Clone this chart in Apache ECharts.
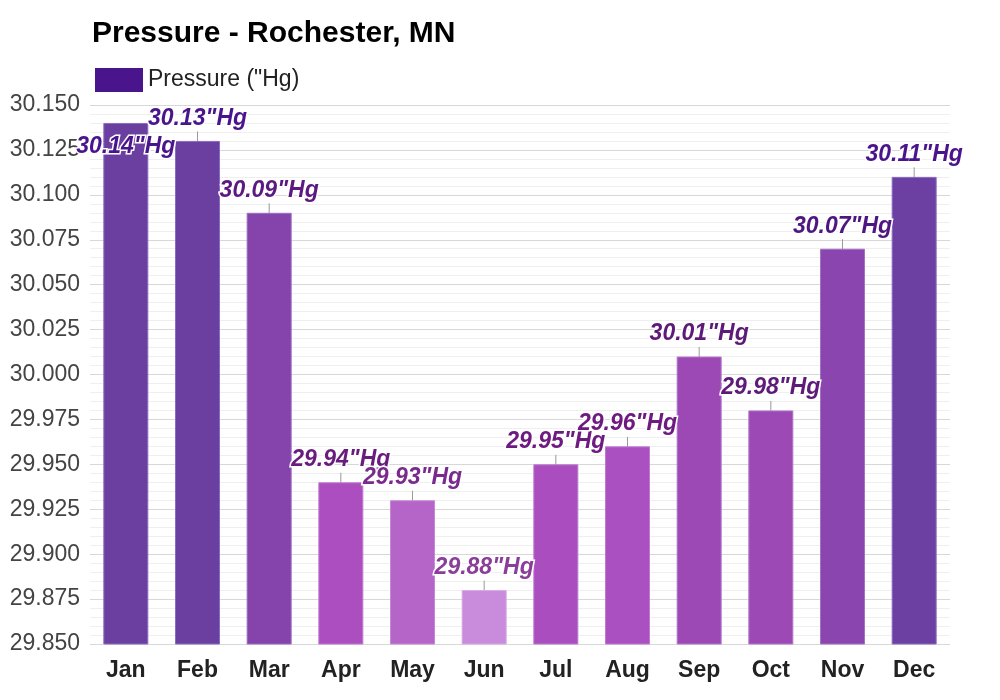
<!DOCTYPE html>
<html><head><meta charset="utf-8">
<script src="https://cdn.jsdelivr.net/npm/echarts@6/dist/echarts.min.js"></script>
<style>html,body{margin:0;padding:0;background:#fff}#c{width:1000px;height:700px}</style>
</head><body><div id="c"></div>
<script>
const months = ['Jan','Feb','Mar','Apr','May','Jun','Jul','Aug','Sep','Oct','Nov','Dec'];
const pressure = [30.14, 30.13, 30.09, 29.94, 29.93, 29.88, 29.95, 29.96, 30.01, 29.98, 30.07, 30.11];
const barColors = ['#6a3fa0','#6a3fa0','#8444ac','#ac4ec0','#b565c8','#c98bdb','#a94dbf','#aa50c0','#9c49b6','#9c49b6','#8a45ae','#6b40a2'];
const borderColors = ['#8a6cc0','#8a6cc0','#9c6cc0','#c07ad0','#c688d6','#d8a8e6','#be7ad0','#be7ad0','#b276cc','#b276cc','#a472c4','#8a6cc0'];
const labelColors = ['#4a148c','#4a148c','#5c1a80','#6a1b7e','#7a2a8c','#8a3e9a','#6e1a80','#6e1a80','#5e1a78','#5e1a78','#4f1580','#4a148c'];
const yTicks = { min: 29.85, max: 30.15, interval: 0.025 };

const chart = echarts.init(document.getElementById('c'));
chart.setOption({
  animation: false,
  title: { text: 'Pressure - Rochester, MN', left: 87, top: 14,
    textStyle: { fontFamily: 'Liberation Sans, Arial', fontSize: 30, fontWeight: 'bold', color: '#000' } },
  legend: { left: 90, top: 63, itemWidth: 48, itemHeight: 24, itemGap: 9, icon: 'rect',
    textStyle: { fontFamily: 'Liberation Sans, Arial', fontSize: 23, color: '#222' },
    data: [{ name: 'Pressure ("Hg)', itemStyle: { color: '#4a148c', borderWidth: 0 } }] },
  grid: { left: 90, right: 50, top: 105, bottom: 56 },
  xAxis: { type: 'category', data: months,
    axisLine: { show: false }, axisTick: { show: false },
    axisLabel: { fontFamily: 'Liberation Sans, Arial', fontSize: 23, fontWeight: 'bold', color: '#222', margin: 15 } },
  yAxis: { type: 'value', min: yTicks.min, max: yTicks.max, interval: yTicks.interval,
    axisLine: { show: false }, axisTick: { show: false },
    axisLabel: { fontFamily: 'Liberation Sans, Arial', fontSize: 23, color: '#444', margin: 10,
      formatter: v => v.toFixed(3) },
    splitLine: { lineStyle: { color: '#d8d8d8', width: 1 } },
    minorTick: { show: false, splitNumber: 5 },
    minorSplitLine: { show: true, lineStyle: { color: '#efefef', width: 1 } } },
  series: [{
    name: 'Pressure ("Hg)', type: 'bar', barWidth: 45,
    data: pressure.map((v, i) => ({ value: v,
      itemStyle: { color: barColors[i], borderColor: borderColors[i], borderWidth: 1 },
      label: { color: labelColors[i] } })),
    label: { show: true, position: 'top', distance: 1,
      formatter: p => p.value.toFixed(2) + '"Hg',
      fontFamily: 'Liberation Sans, Arial', fontSize: 23, fontWeight: 'bold', fontStyle: 'italic',
      textBorderColor: '#fff', textBorderWidth: 3 },
    labelLayout: p => p.dataIndex === 0 ? { dy: 36 } : { dy: -10 },
    labelLine: { show: true, lineStyle: { color: '#999', width: 1 } }
  }]
});
</script></body></html>
